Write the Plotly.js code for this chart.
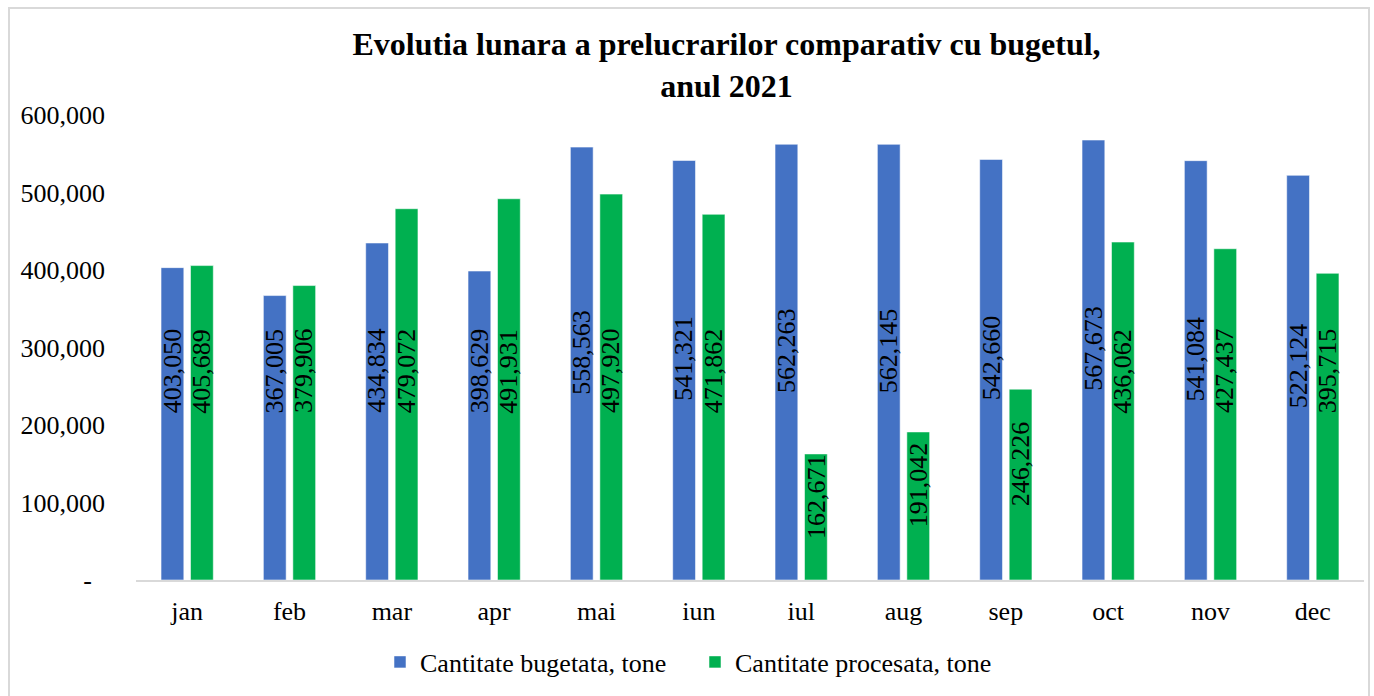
<!DOCTYPE html>
<html>
<head>
<meta charset="utf-8">
<script src="https://cdn.plot.ly/plotly-3.0.1.min.js"></script>
<style>
  html, body { margin: 0; padding: 0; background: #ffffff; }
  #frame { position: absolute; left: 8px; top: 7px; width: 1362px; height: 700px; border: 2px solid #d9d9d9; box-sizing: border-box; }
  #chart { position: absolute; left: 0; top: 0; width: 1374px; height: 696px; }
</style>
</head>
<body>
<div id="frame"></div>
<div id="chart"></div>
<script>
const months = ['jan','feb','mar','apr','mai','iun','iul','aug','sep','oct','nov','dec'];
const bugetata = [403050, 367005, 434834, 398629, 558563, 541321, 562263, 562145, 542660, 567673, 541084, 522124];
const procesata = [405689, 379906, 479072, 491931, 497920, 471862, 162671, 191042, 246226, 436062, 427437, 395715];
const seriesNames = ['Cantitate bugetata, tone', 'Cantitate procesata, tone'];
const yTickVals = [0, 100000, 200000, 300000, 400000, 500000, 600000];
const yTickText = ['-\u00a0\u00a0', '100,000', '200,000', '300,000', '400,000', '500,000', '600,000'];

const FONT = 'Liberation Serif, Times New Roman, serif';
const BLUE = '#4472C4';
const GREEN = '#00B050';

const W = 1374, H = 696;
const margin = {l: 135.5, r: 10, t: 115, b: 116};
const plotW = W - margin.l - margin.r;
const catW = plotW / months.length;
const bargap = 0.424;
const slot = catW * (1 - bargap) / 2;

function fmt(v) { return v.toLocaleString('en-US'); }
function labelY(v) {
  return v >= 300000 ? Math.max(v / 2 + 15000, 270000) : v / 2 + 27000;
}

const annotations = [];
[bugetata, procesata].forEach((arr, s) => {
  arr.forEach((v, i) => {
    annotations.push({
      x: months[i], y: labelY(v), xref: 'x', yref: 'y',
      xshift: (s === 0 ? -1 : 1) * slot / 2,
      text: fmt(v), textangle: -90, showarrow: false,
      font: {family: FONT, size: 26, color: '#000000'}
    });
  });
});

const traces = [
  {type: 'bar', name: seriesNames[0], x: months, y: bugetata,
   marker: {color: BLUE, line: {color: 'rgba(255,255,255,0.7)', width: 0.75}},
   textposition: 'none', hoverinfo: 'x+y'},
  {type: 'bar', name: seriesNames[1], x: months, y: procesata,
   marker: {color: GREEN, line: {color: 'rgba(255,255,255,0.7)', width: 0.75}},
   textposition: 'none', hoverinfo: 'x+y'}
];

const layout = {
  width: W, height: H,
  margin: margin,
  paper_bgcolor: 'rgba(0,0,0,0)',
  plot_bgcolor: 'rgba(0,0,0,0)',
  barmode: 'group',
  bargap: bargap,
  bargroupgap: 0.227,
  font: {family: FONT, size: 26, color: '#000000'},
  title: {
    text: '<b>Evolutia lunara a prelucrarilor comparativ cu bugetul,<br>anul 2021</b>',
    font: {family: FONT, size: 32, color: '#000000'},
    x: 726.5 / W, xref: 'container', xanchor: 'center',
    y: 1 - 55 / H, yref: 'container', yanchor: 'middle'
  },
  xaxis: {
    type: 'category',
    showgrid: false, zeroline: false,
    showline: true, linecolor: '#d9d9d9', linewidth: 2,
    ticks: '', ticklabelstandoff: 7,
    tickfont: {family: FONT, size: 26, color: '#000000'}
  },
  yaxis: {
    range: [0, 600000], autorange: false,
    tickvals: yTickVals, ticktext: yTickText,
    showgrid: false, zeroline: false, showline: false,
    ticks: '', ticklabelstandoff: 30,
    tickfont: {family: FONT, size: 26, color: '#000000'}
  },
  showlegend: true,
  legend: {
    orientation: 'h',
    x: 695 / W, xref: 'container', xanchor: 'center',
    y: 1 - 662 / H, yref: 'container', yanchor: 'middle',
    font: {family: FONT, size: 26, color: '#000000'},
    bgcolor: 'rgba(0,0,0,0)',
    entrywidth: 270, entrywidthmode: 'pixels',
    itemwidth: 30
  },
  annotations: annotations
};

Plotly.newPlot('chart', traces, layout, {displayModeBar: false, staticPlot: true});
</script>
</body>
</html>
